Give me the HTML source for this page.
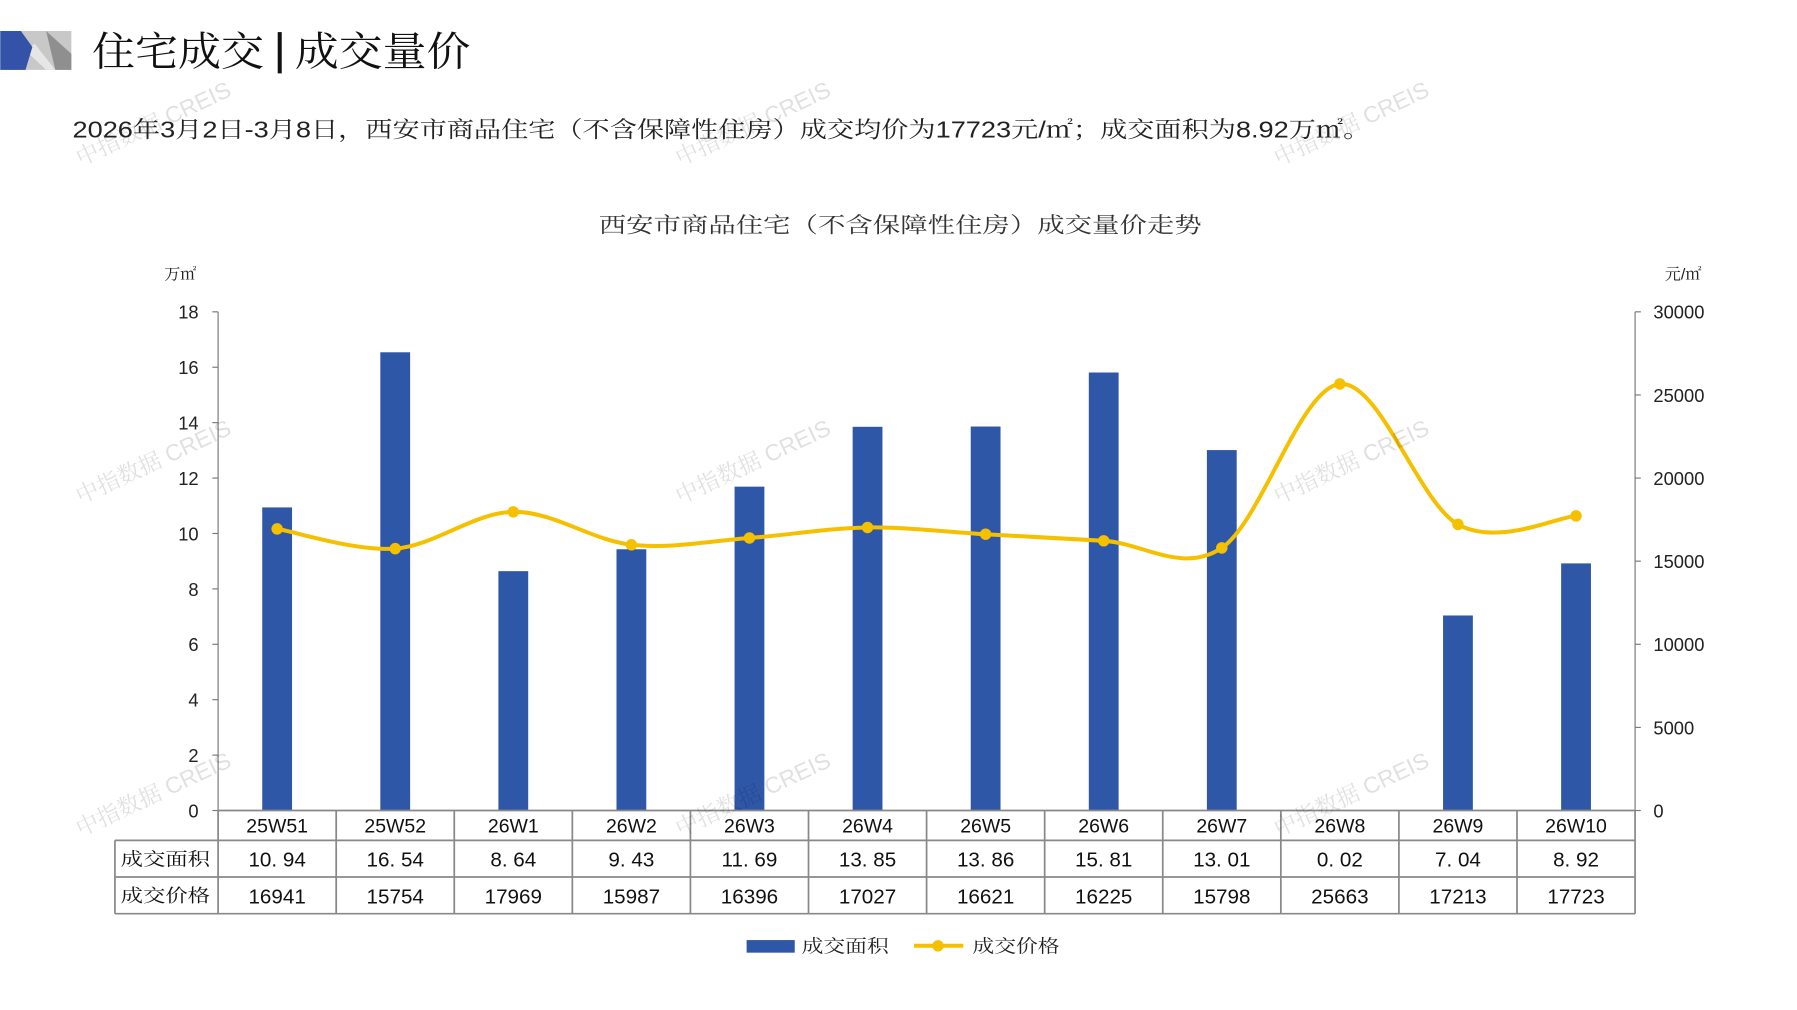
<!DOCTYPE html>
<html><head><meta charset="utf-8">
<style>
html,body{margin:0;padding:0;background:#fff;}
svg{display:block;}
text{font-family:"Liberation Sans","Noto Serif CJK SC",sans-serif;}
</style></head>
<body>
<svg id="s" width="1797" height="1010" viewBox="0 0 1567 881" xmlns="http://www.w3.org/2000/svg">
<rect width="1567" height="881" fill="#fff"/>
<polygon points="0,27 62,27 62,61 0,61" fill="#c8c8c8"/>
<polygon points="40,27 62,47 62,61 48,61" fill="#8f8f8f"/>
<polygon points="22,44 40,61 48,61 30,38" fill="#e6e6e6"/>
<polygon points="0,27 18,27 28,41 22,61 0,61" fill="#3352a8"/>
<text x="80" y="57" font-size="35" fill="#111" textLength="150" lengthAdjust="spacingAndGlyphs">住宅成交</text>
<rect x="242" y="28" width="3.5" height="36" fill="#111"/>
<text x="257" y="57" font-size="35" fill="#111" textLength="153" lengthAdjust="spacingAndGlyphs">成交量价</text>
<text x="63" y="120" font-size="20" fill="#222" textLength="1132" lengthAdjust="spacingAndGlyphs">2026年3月2日-3月8日，西安市商品住宅（不含保障性住房）成交均价为17723元/㎡；成交面积为8.92万㎡。</text>
<text x="522" y="203" font-size="19" fill="#333" textLength="526" lengthAdjust="spacingAndGlyphs">西安市商品住宅（不含保障性住房）成交量价走势</text>
<text x="143" y="244" font-size="14" fill="#222">万㎡</text>
<text x="1452" y="244" font-size="14" fill="#222">元/㎡</text>
<g id="g"></g>
</svg>
<script>
const g=document.getElementById('g');let h='';
const cats=['25W51','25W52','26W1','26W2','26W3','26W4','26W5','26W6','26W7','26W8','26W9','26W10'];
const area=[10.94,16.54,8.64,9.43,11.69,13.85,13.86,15.81,13.01,0.02,7.04,8.92];
const price=[16941,15754,17969,15987,16396,17027,16621,16225,15798,25663,17213,17723];
const L=190,R=1426,T=272,B=707,W=(R-L)/12;
h+=`<line x1="${L}" y1="${T}" x2="${L}" y2="${B}" stroke="#777" stroke-width="1"/>`;
h+=`<line x1="${R}" y1="${T}" x2="${R}" y2="${B}" stroke="#777" stroke-width="1"/>`;
for(let i=0;i<=9;i++){const y=B-i*(B-T)/9;h+=`<line x1="${L-5}" y1="${y}" x2="${L}" y2="${y}" stroke="#777"/><text x="173" y="${y+6}" font-size="16" text-anchor="end" fill="#222">${i*2}</text>`;}
for(let i=0;i<=6;i++){const y=B-i*(B-T)/6;h+=`<line x1="${R}" y1="${y}" x2="${R+5}" y2="${y}" stroke="#777"/><text x="1442" y="${y+6}" font-size="16" fill="#222">${i*5000}</text>`;}
const pts=[];
cats.forEach((c,i)=>{const cx=L+W*(i+0.5);const bh=area[i]/18*(B-T);
h+=`<rect x="${cx-13}" y="${B-bh}" width="26" height="${bh}" fill="#2f57a8"/>`;
pts.push([cx,B-price[i]/30000*(B-T)]);});
let d=`M${pts[0][0]},${pts[0][1]}`;
for(let i=0;i<pts.length-1;i++){const p0=pts[Math.max(0,i-1)],p1=pts[i],p2=pts[i+1],p3=pts[Math.min(pts.length-1,i+2)];
d+=` C${p1[0]+(p2[0]-p0[0])/6},${p1[1]+(p2[1]-p0[1])/6} ${p2[0]-(p3[0]-p1[0])/6},${p2[1]-(p3[1]-p1[1])/6} ${p2[0]},${p2[1]}`;}
h+=`<path d="${d}" fill="none" stroke="#f5c000" stroke-width="3.5"/>`;
pts.forEach(p=>h+=`<circle cx="${p[0]}" cy="${p[1]}" r="5" fill="#f5c000"/>`);
h+=`<g stroke="#888" stroke-width="1.5" fill="none">`;
h+=`<line x1="${L}" y1="707" x2="${R}" y2="707"/>`;
h+=`<line x1="100" y1="733" x2="${R}" y2="733"/><line x1="100" y1="765" x2="${R}" y2="765"/><line x1="100" y1="797" x2="${R}" y2="797"/>`;
h+=`<line x1="100" y1="733" x2="100" y2="797"/>`;
for(let i=0;i<=12;i++){const x=L+W*i;h+=`<line x1="${x}" y1="707" x2="${x}" y2="797"/>`;}
h+=`</g>`;
cats.forEach((c,i)=>{const cx=L+W*(i+0.5);
h+=`<text x="${cx}" y="726" font-size="17" text-anchor="middle" fill="#111">${c}</text>`;
h+=`<text x="${cx}" y="756" font-size="18" text-anchor="middle" fill="#111">${area[i].toFixed(2).replace('.','. ')}</text>`;
h+=`<text x="${cx}" y="788" font-size="18" text-anchor="middle" fill="#111">${price[i]}</text>`;});
h+=`<text x="105" y="755" font-size="16" fill="#111" textLength="78" lengthAdjust="spacingAndGlyphs">成交面积</text>`;
h+=`<text x="105" y="787" font-size="16" fill="#111" textLength="78" lengthAdjust="spacingAndGlyphs">成交价格</text>`;
h+=`<rect x="651" y="820" width="42" height="11" fill="#2f57a8"/><text x="699" y="831" font-size="16" fill="#222" textLength="76" lengthAdjust="spacingAndGlyphs">成交面积</text>`;
h+=`<line x1="797" y1="825" x2="840" y2="825" stroke="#f5c000" stroke-width="3.5"/><circle cx="818" cy="825" r="5" fill="#f5c000"/><text x="848" y="831" font-size="16" fill="#222" textLength="76" lengthAdjust="spacingAndGlyphs">成交价格</text>`;
[[70,145],[593,145],[1115,145],[70,440],[593,440],[1115,440],[70,730],[593,730],[1115,730]].forEach(p=>{
h+=`<text x="${p[0]}" y="${p[1]}" font-size="20" fill="#000" fill-opacity="0.12" transform="rotate(-25 ${p[0]} ${p[1]})">中指数据 CREIS</text>`;});
g.innerHTML=h;
</script>
</body></html>
